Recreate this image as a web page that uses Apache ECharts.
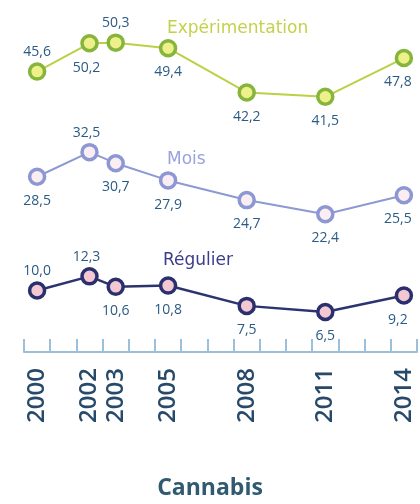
<!DOCTYPE html>
<html><head><meta charset="utf-8">
<script src="https://cdn.jsdelivr.net/npm/echarts@6/dist/echarts.min.js"></script>
<style>html,body{margin:0;padding:0;background:#fff}#c{width:420px;height:504px}</style>
</head><body><div id="c"></div>
<script>
const categories = ['2000','2001','2002','2003','2004','2005','2006','2007','2008','2009','2010','2011','2012','2013','2014'];
const years = ['2000','2002','2003','2005','2008','2011','2014'];
const experimentation = [45.6, 50.2, 50.3, 49.4, 42.2, 41.5, 47.8];
const mois = [28.5, 32.5, 30.7, 27.9, 24.7, 22.4, 25.5];
const regulier = [10.0, 12.3, 10.6, 10.8, 7.5, 6.5, 9.2];
const expPos = ['top','bottom','top','bottom','bottom','bottom','bottom'];
const moisPos = ['bottom','top','bottom','bottom','bottom','bottom','bottom'];
const regPos = ['top','top','bottom','bottom','bottom','bottom','bottom'];

const fmt = v => v.toFixed(1).replace('.', ',');
function build(vals, pos, lineColor, border, fill, width){
  return {
    type:'line',
    data: years.map((y,i)=>({value:[y, vals[i]], label:{position:pos[i],
      distance: pos[i]==='top'?3:8,
      offset:[i===vals.length-1?-6:(i===1?-3:0),0]}})),
    symbol:'circle', symbolSize:15,
    lineStyle:{color:lineColor, width:width},
    itemStyle:{color:fill, borderColor:border, borderWidth:3.5},
    label:{show:true, color:'#2a5b84', fontSize:14, fontFamily:'Open Sans',
      formatter:p=>fmt(p.value[1])},
    z:3
  };
}
const chart = echarts.init(document.getElementById('c'));
chart.setOption({
  animation:false,
  grid:{left:24, right:3, top:7.6, bottom:152},
  xAxis:{type:'category', data:categories, boundaryGap:true,
    axisLine:{show:true, lineStyle:{color:'#9fbdd4', width:2}},
    axisTick:{show:true, inside:true, length:13, interval:0, lineStyle:{color:'#9cc0da', width:2}},
    axisLabel:{show:true, rotate:90, interval:(i,v)=>years.includes(v), color:'#27496a', fontSize:24,
      fontFamily:'Open Sans', fontWeight:600, margin:16}
  },
  yAxis:{type:'value', min:0, max:56, show:false},
  series:[
    build(experimentation, expPos, '#bcd046', '#86b53c', '#eef08a', 2),
    build(mois, moisPos, '#8d99d3', '#8c97d4', '#fbeef2', 2),
    build(regulier, regPos, '#2c3470', '#2a2f6e', '#f4c8d3', 2.5)
  ],
  graphic:[
    {type:'text', left:167, top:20, style:{text:'Expérimentation', fill:'#c3d24c', fontSize:17, fontFamily:'DejaVu Sans'}},
    {type:'text', left:167, top:151, style:{text:'Mois', fill:'#9aa2de', fontSize:17, fontFamily:'DejaVu Sans'}},
    {type:'text', left:163, top:252, style:{text:'Régulier', fill:'#3b3c8c', fontSize:17, fontFamily:'DejaVu Sans'}},
    {type:'text', left:'center', top:477, style:{text:'Cannabis', fill:'#2f5a70', fontSize:23, fontFamily:'Open Sans', fontWeight:'bold'}}
  ]
});
</script></body></html>
